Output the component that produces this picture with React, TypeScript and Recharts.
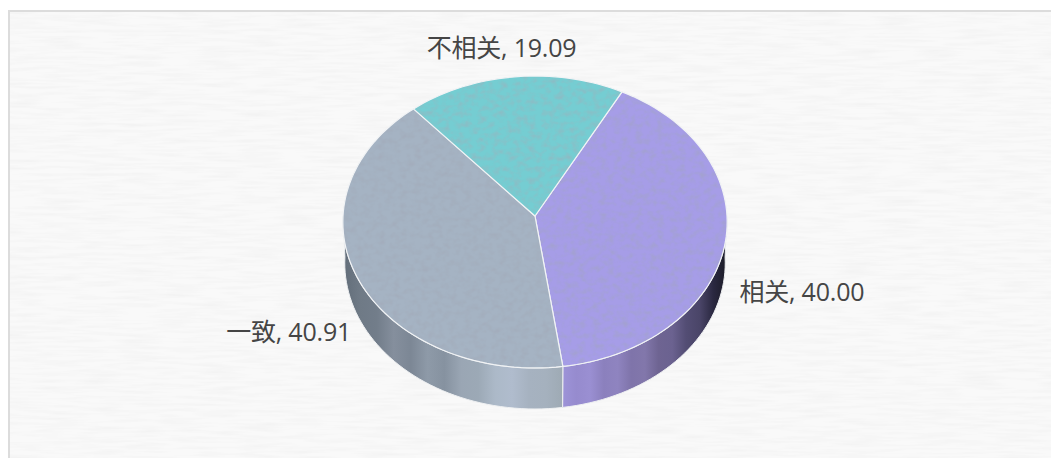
import React from "react";
import { PieChart, Pie, Cell } from "recharts";

const categories = ["相关", "一致", "不相关"];
const shares = [40.0, 40.91, 19.09];

const TOP_COLORS = ["#a69de7", "#a5b3c3", "#75cdd2"];
const WALL_COLORS = [
  ["#9d93d8", "#968bce", "#9a8fd2", "#8b80bd", "#8f84c0", "#7f74aa", "#8277ab", "#6e6492", "#6b6290", "#534d74", "#4a4568", "#2a2840", "#1b1b26"],
  ["#626d79", "#6f7a86", "#727d8a", "#858f9d", "#7c8795", "#8e9aa8", "#8692a0", "#9aa6b4", "#9ca9b6", "#acb9c8", "#b0bccd", "#a6b2c0", "#a5b1be", "#9eaab4"],
];

const tableData = categories.map((name, i) => ({ name, value: shares[i] }));

const DEPTH = 41;
const RATIO = 0.759; // vertical squash of the disc
const TILT = 0.0411; // near side looks a bit bigger than far side

// angle is clockwise from 12 o'clock here
const project = (cx: number, cy: number, r: number, deg: number, drop = 0, shrink = 1) => {
  const a = (deg * Math.PI) / 180;
  const X = Math.sin(a);
  const Y = -Math.cos(a);
  const d = 1 - TILT * Y;
  return [cx + (r * shrink * X) / d, cy + drop + (r * RATIO * Y) / d];
};

const arcPoints = (cx: number, cy: number, r: number, from: number, to: number, drop = 0, shrink = 1) => {
  const pts: string[] = [];
  const steps = Math.max(2, Math.ceil(Math.abs(to - from) / 2));
  for (let i = 0; i <= steps; i++) {
    const p = project(cx, cy, r, from + ((to - from) * i) / steps, drop, shrink);
    pts.push(`${p[0].toFixed(2)} ${p[1].toFixed(2)}`);
  }
  return pts;
};

const TopSlice = (props: any) => {
  const { cx, cy, outerRadius, startAngle, endAngle, fill } = props;
  const d = `M${cx} ${cy} L${arcPoints(cx, cy, outerRadius, 90 - startAngle, 90 - endAngle).join(" L")} Z`;
  return (
    <g>
      <path d={d} fill={fill} filter="url(#pieGrain)" />
      <path d={d} fill="none" stroke="#f1f3f5" strokeWidth={1.2} strokeLinejoin="round" />
    </g>
  );
};

const WallSlice = (props: any) => {
  const { cx, cy, outerRadius, startAngle, endAngle, index } = props;
  const from = Math.max(90, 90 - startAngle);
  const to = Math.min(270, 90 - endAngle);
  if (to <= from || !WALL_COLORS[index]) return <g />;
  const upper = arcPoints(cx, cy, outerRadius, from, to);
  const lower = arcPoints(cx, cy, outerRadius, to, from, DEPTH, 0.99);
  const stops = WALL_COLORS[index];
  const id = `wall${index}`;
  // the seam between the two front slices sits at endAngle of the first one
  const seam = project(cx, cy, outerRadius, index === 0 ? to : from)[0];
  const left = index === 0 ? seam : cx - outerRadius;
  const right = index === 0 ? cx + outerRadius : seam;
  return (
    <g>
      <defs>
        <linearGradient id={id} gradientUnits="userSpaceOnUse" x1={left} x2={right} y1={0} y2={0}>
          {stops.map((c, i) => (
            <stop key={i} offset={i / (stops.length - 1)} stopColor={c} />
          ))}
        </linearGradient>
      </defs>
      <path d={`M${upper.join(" L")} L${lower.join(" L")} Z`} fill={`url(#${id})`} stroke="#eef0f2" strokeWidth={1} />
    </g>
  );
};

const renderLabel = (props: any) => {
  const { cx, cy, outerRadius, midAngle, name, value } = props;
  const deg = 90 - midAngle;
  const [px, py] = project(cx, cy, outerRadius, deg);
  const norm = ((deg % 360) + 360) % 360;
  const isTop = norm > 300 || norm < 60;
  const isRight = norm < 180;
  let x = isRight ? px + 14 : px - 6;
  let y = isRight ? py + 50 : py + 54;
  let anchor = isRight ? "start" : "end";
  if (isTop) {
    x = px - 13;
    y = py - 30;
    anchor = "middle";
  }
  return (
    <text x={x} y={y} textAnchor={anchor} dominantBaseline="central" fontSize={25} fill="#454545" fontFamily="'Open Sans', 'Noto Sans CJK SC', sans-serif" fontWeight={400} letterSpacing={-0.2}>
      {`${name}, ${value.toFixed(2)}`}
    </text>
  );
};

export default function App() {
  return (
    <div style={{ position: "absolute", left: 0, top: 0, width: 1051, height: 458, background: "#ffffff", overflow: "hidden" }}>
      <svg width={1051} height={458} style={{ position: "absolute", left: 0, top: 0 }}>
        <defs>
          <filter id="paper" x="0" y="0" width="100%" height="100%">
            <feTurbulence type="fractalNoise" baseFrequency="0.025 0.3" numOctaves={2} seed={4} result="n" />
            <feColorMatrix in="n" type="matrix" values="0 0 0 0 0.68  0 0 0 0 0.68  0 0 0 0 0.68  0 0 0 0.42 -0.16" result="streak" />
            <feMerge>
              <feMergeNode in="SourceGraphic" />
              <feMergeNode in="streak" />
            </feMerge>
          </filter>
        </defs>
        <rect x={9} y={11} width={1042} height={447} fill="#f9f9f9" filter="url(#paper)" />
        <path d="M9 458 L9 11 L1051 11" fill="none" stroke="#dcdcdc" strokeWidth={2} />
      </svg>
      <div style={{ position: "absolute", left: 0, top: 0 }}>
        <PieChart width={1051} height={458} margin={{ top: 0, right: 0, bottom: 0, left: 0 }}>
          <defs>
            <filter id="pieGrain" x="0" y="0" width="100%" height="100%">
              <feTurbulence type="fractalNoise" baseFrequency="0.14 0.18" numOctaves={2} seed={7} result="n" />
              <feColorMatrix in="n" type="matrix" values="0 0 0 0 0.36  0 0 0 0 0.38  0 0 0 0 0.46  0 0 0 1 -0.42" result="tone" />
              <feComposite in="tone" in2="SourceAlpha" operator="in" result="clipped" />
              <feMerge>
                <feMergeNode in="SourceGraphic" />
                <feMergeNode in="clipped" />
              </feMerge>
            </filter>
          </defs>
          <Pie
            data={tableData}
            dataKey="value"
            nameKey="name"
            cx={535}
            cy={216}
            outerRadius={192}
            startAngle={62}
            endAngle={-298}
            paddingAngle={0}
            isAnimationActive={false}
            shape={WallSlice}
            label={false}
            labelLine={false}
          />
          <Pie
            data={tableData}
            dataKey="value"
            nameKey="name"
            cx={535}
            cy={216}
            outerRadius={192}
            startAngle={62}
            endAngle={-298}
            paddingAngle={0}
            isAnimationActive={false}
            shape={TopSlice}
            label={renderLabel}
            labelLine={false}
          >
            {tableData.map((d, i) => (
              <Cell key={d.name} fill={TOP_COLORS[i]} />
            ))}
          </Pie>
        </PieChart>
      </div>
    </div>
  );
}
